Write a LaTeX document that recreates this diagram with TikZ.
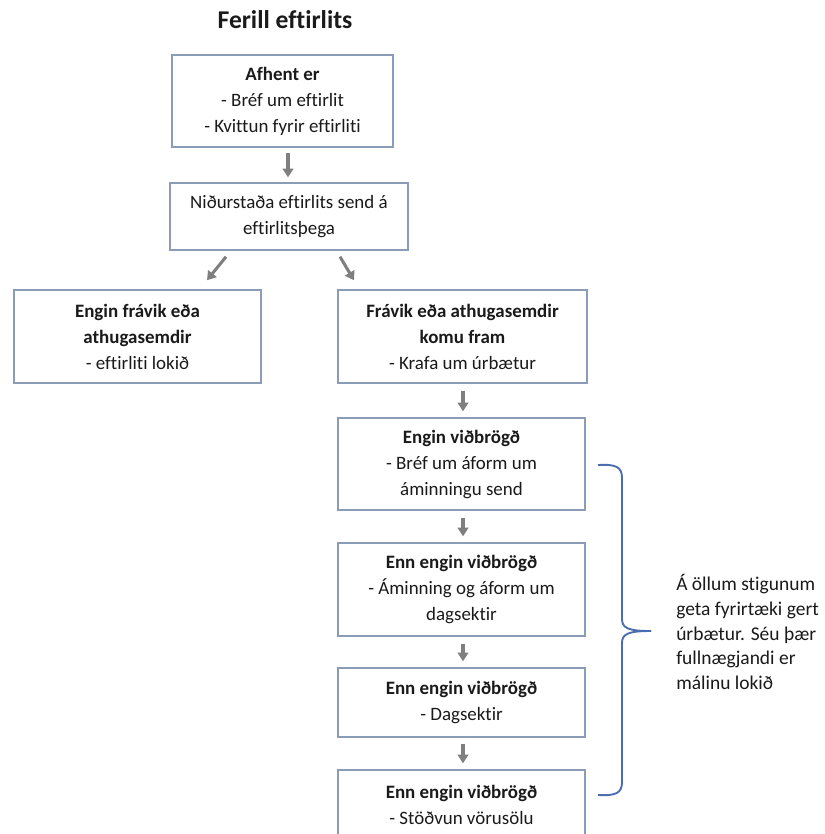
\documentclass[tikz,border=0pt]{standalone}
\usepackage{fontspec}
\setmainfont{Carlito}[Ligatures=NoCommon]
\usetikzlibrary{arrows.meta,calc}
\definecolor{boxcol}{HTML}{8A9CB8}
\definecolor{arrcol}{HTML}{7F7F7F}
\definecolor{bracecol}{HTML}{4A6DB0}
\definecolor{txtcol}{HTML}{1A1A1A}
\begin{document}
\begin{tikzpicture}[x=0.75pt,y=-0.75pt,
  bx/.style={draw=boxcol, line width=1.1pt, align=center, inner sep=0pt, fill=white,
    text=txtcol, font=\fontsize{14.2}{19.5}\selectfont},
  arr/.style={draw=arrcol, line width=2.3pt, -{Triangle[length=6.5pt,width=8pt]}, arrcol},
  brace/.style={draw=bracecol, line width=1.4pt}]
\clip (0,0) rectangle (824,834);
\fill[white] (0,0) rectangle (824,834);
\node[font=\fontsize{19.2}{22}\selectfont\bfseries, text=txtcol] (title) at (285,20) {Ferill eftirlits};
\node[bx, minimum width=165.75pt, minimum height=69pt] (b1) at (282.5,101)
  {{\bfseries Afhent er}\\- Bréf um eftirlit\\- Kvittun fyrir eftirliti};
\node[bx, minimum width=178.5pt, minimum height=50.25pt] (b2) at (289,216.5)
  {Niðurstaða eftirlits send á\\eftirlitsþega};
\node[bx, minimum width=185.25pt, minimum height=69.75pt] (b3) at (137.5,336.5)
  {{\bfseries Engin frávik eða}\\{\bfseries athugasemdir}\\- eftirliti lokið};
\node[bx, minimum width=186.75pt, minimum height=69.75pt] (b4) at (462.5,336.5)
  {{\bfseries Frávik eða athugasemdir}\\{\bfseries komu fram}\\- Krafa um úrbætur};
\node[bx, minimum width=185.25pt, minimum height=69pt] (b5) at (461.5,464)
  {{\bfseries Engin viðbrögð}\\- Bréf um áform um\\áminningu send};
\node[bx, minimum width=185.25pt, minimum height=69.75pt] (b6) at (461.5,589.5)
  {{\bfseries Enn engin viðbrögð}\\- Áminning og áform um\\dagsektir};
\node[bx, minimum width=185.25pt, minimum height=51.75pt] (b7) at (461.5,702.5)
  {{\bfseries Enn engin viðbrögð}\\- Dagsektir};
\node[bx, minimum width=185.25pt, minimum height=51.75pt] (b8) at (461.5,804.5)
  {{\bfseries Enn engin viðbrögð}\\- Stöðvun vörusölu};
% arrows
\draw[arr] ($(b1.south)+(5.5,5)$) -- ($(b2.north)+(-1,-5)$);
\draw[arr] ($(b2.south)+(-63,6)$) -- ($(b3.north)+(69.5,-9)$);
\draw[arr] ($(b2.south)+(51,6)$) -- ($(b4.north)+(-108.5,-9)$);
\draw[arr] ($(b4.south)+(0.5,7)$) -- ($(b5.north)+(1.5,-6)$);
\draw[arr] ($(b5.south)+(1.5,7)$) -- ($(b6.north)+(1.5,-6)$);
\draw[arr] ($(b6.south)+(1.5,7)$) -- ($(b7.north)+(1.5,-6)$);
\draw[arr] ($(b7.south)+(1.5,6)$) -- ($(b8.north)+(1.5,-6)$);
% brace
\coordinate (bt) at (598,465);
\coordinate (bm) at (651,631);
\coordinate (bb) at (598,795);
\draw[brace] (bt) .. controls (616,464) and (622,467) .. (622,478) -- (622,619)
  .. controls (622,628) and (628,631) .. (bm);
\draw[brace] (bm) .. controls (628,631) and (622,634) .. (622,643) -- (622,782)
  .. controls (622,793) and (616,796) .. (bb);
\node[anchor=west, align=left, text=txtcol, inner sep=0pt,
  font=\fontsize{14.6}{18.4}\selectfont] (note) at (676,632)
  {Á öllum stigunum\\geta fyrirtæki gert\\úrbætur. Séu þær\\fullnægjandi er\\málinu lokið};
\end{tikzpicture}
\end{document}
